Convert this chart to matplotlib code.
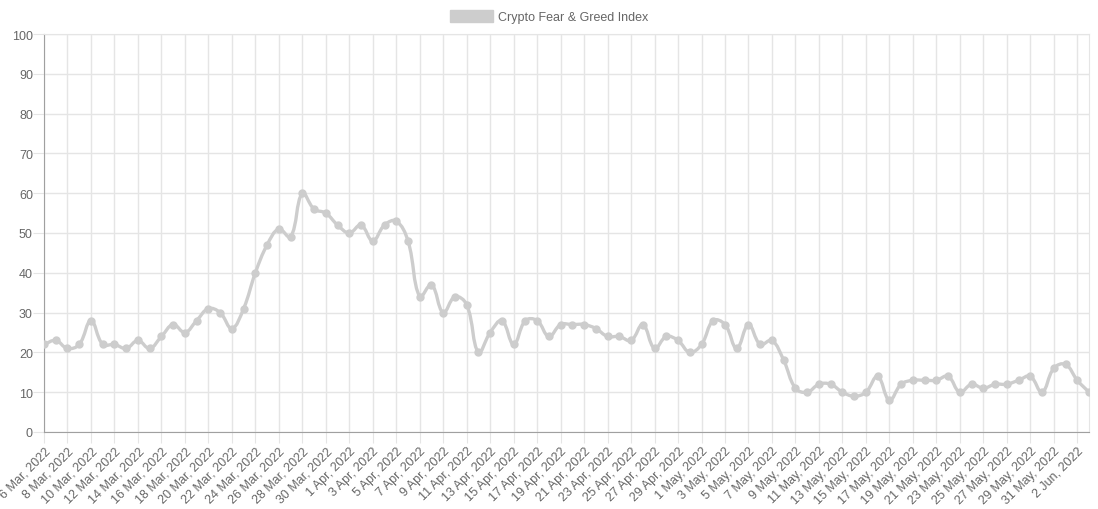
import numpy as np
import pandas as pd
import matplotlib
matplotlib.use("Agg")
import matplotlib.pyplot as plt
from matplotlib.path import Path
from matplotlib.patches import PathPatch, Patch

dates = pd.date_range("2022-03-06", "2022-06-03", freq="D")
values = [22, 23, 21, 22, 28, 22, 22, 21, 23, 21, 24, 27, 25, 28, 31, 30,
          26, 31, 40, 47, 51, 49, 60, 56, 55, 52, 50, 52, 48, 52, 53, 48,
          34, 37, 30, 34, 32, 20, 25, 28, 22, 28, 28, 24, 27, 27, 27, 26,
          24, 24, 23, 27, 21, 24, 23, 20, 22, 28, 27, 21, 27, 22, 23, 18,
          11, 10, 12, 12, 10, 9, 10, 14, 8, 12, 13, 13, 13, 14, 10, 12,
          11, 12, 12, 13, 14, 10, 16, 17, 13, 10]
series_name = "Crypto Fear & Greed Index"

line_color = "#cdcdcd"
text_color = "#666666"
grid_color = "#e5e5e5"

x = np.arange(len(values))
y = np.array(values, dtype=float)
tick_idx = x[::2]
tick_labels = [f"{d.day} {d.strftime('%b')}, {d.year}" for d in dates[::2]]

fig = plt.figure(figsize=(10.98, 5.10), dpi=100)
ax = fig.add_axes([44 / 1098, 1 - 433 / 510, 1045 / 1098, 398 / 510])
ax.set_xlim(0, len(values) - 1)
ax.set_ylim(0, 100)

# Chart.js style bezier smoothing (tension 0.4), distances in pixel space
sx = 1045 / (len(values) - 1)
sy = 398 / 100
t = 0.4
px, py = x * sx, y * sy
cp_in, cp_out = [], []
for i in range(len(x)):
    p0 = i - 1 if i > 0 else i
    p2 = i + 1 if i < len(x) - 1 else i
    d01 = np.hypot(px[i] - px[p0], py[i] - py[p0])
    d12 = np.hypot(px[p2] - px[i], py[p2] - py[i])
    tot = d01 + d12 if d01 + d12 > 0 else 1
    fa = t * d01 / tot
    fb = t * d12 / tot
    dx, dy = x[p2] - x[p0], y[p2] - y[p0]
    cp_in.append((x[i] - fa * dx, min(max(y[i] - fa * dy, 0), 100)))
    cp_out.append((x[i] + fb * dx, min(max(y[i] + fb * dy, 0), 100)))
verts = [(x[0], y[0])]
codes = [Path.MOVETO]
for i in range(1, len(x)):
    verts += [cp_out[i - 1], cp_in[i], (x[i], y[i])]
    codes += [Path.CURVE4] * 3
ax.add_patch(PathPatch(Path(verts, codes), fill=False, edgecolor=line_color,
                       lw=2.4, capstyle="round", joinstyle="round", zorder=3))
ax.plot(x, y, "o", color=line_color, ms=5, zorder=4)

ax.set_xticks(tick_idx)
ax.set_xticklabels(tick_labels, rotation=45, ha="right", rotation_mode="anchor",
                   fontsize=9, color=text_color, family="Liberation Sans")
ax.set_yticks(range(0, 101, 10))
ax.set_yticklabels([str(v) for v in range(0, 101, 10)], fontsize=9,
                   color=text_color, family="Liberation Sans")
ax.grid(True, color=grid_color, lw=1)
ax.set_axisbelow(True)
ax.tick_params(axis="both", length=8, color=grid_color)
ax.tick_params(axis="y", pad=0)
ax.tick_params(axis="x", pad=1)
for s in ["top", "right"]:
    ax.spines[s].set_color(grid_color)
for s in ["left", "bottom"]:
    ax.spines[s].set_color("#a0a0a0")

ax.set_ylabel("Value", fontsize=9, color=text_color, family="Liberation Sans")
ax.yaxis.set_label_coords(-0.04, 0.5)

leg = fig.legend(handles=[Patch(facecolor=line_color, edgecolor=line_color)],
                 labels=[series_name], loc="upper center",
                 bbox_to_anchor=(0.5, 1.0), frameon=False, handlelength=3.4,
                 handleheight=1.1, handletextpad=0.4,
                 prop={"family": "Liberation Sans", "size": 9})
for txt in leg.get_texts():
    txt.set_color(text_color)

fig.savefig("out.png", dpi=100)
